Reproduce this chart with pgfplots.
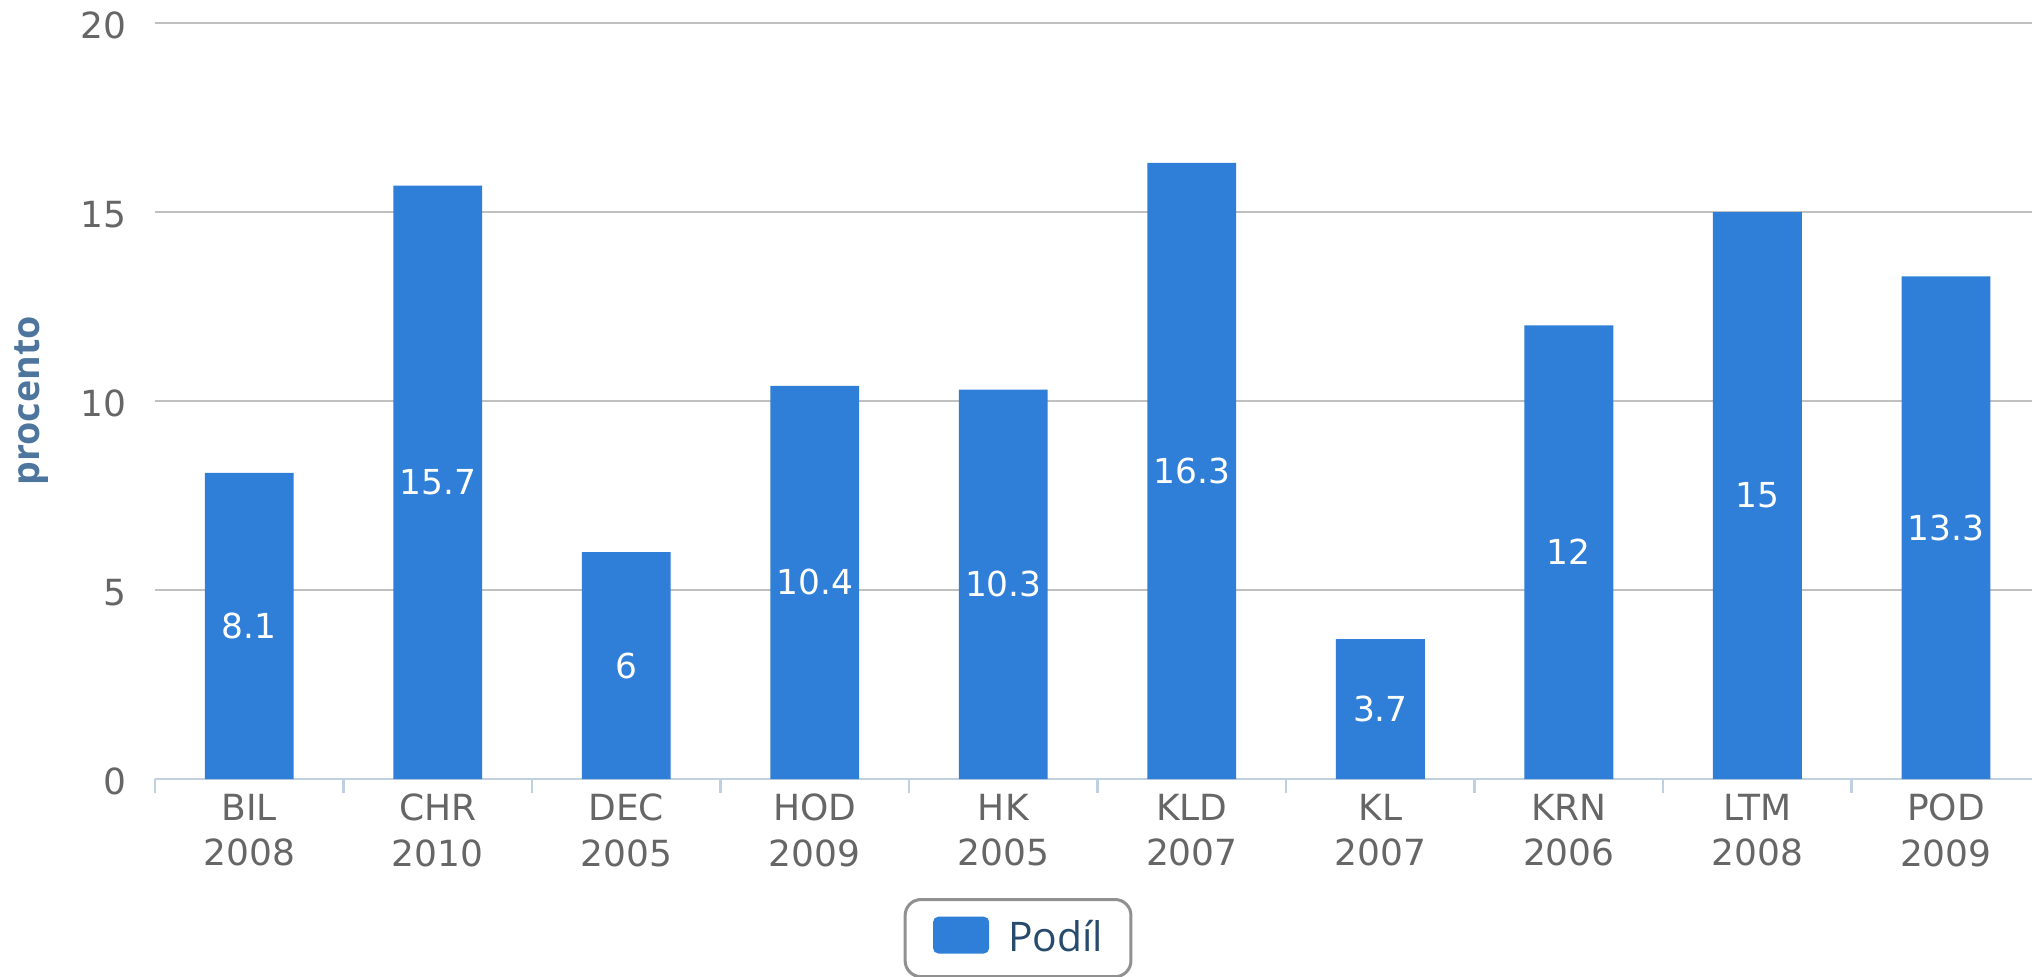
\documentclass[border=0pt]{standalone}
\usepackage{pgfplots}
\pgfplotsset{compat=1.18}
\usepackage{fontspec}
\setmainfont{DejaVu Sans}
\newfontfamily\osans{Open Sans}
\definecolor{barblue}{HTML}{2F7ED8}
\definecolor{gridgray}{HTML}{C0C0C0}
\definecolor{axisblue}{HTML}{C0D0E0}
\definecolor{ticktext}{HTML}{666666}
\definecolor{ylabelcol}{HTML}{4D759E}
\definecolor{legendtext}{HTML}{274B6D}
\definecolor{legendborder}{HTML}{909090}
\begin{document}
\begin{tikzpicture}
\begin{axis}[
  scale only axis,
  width=469.25pt, height=189pt,
  xmin=-0.5, xmax=9.457,
  ymin=0, ymax=20,
  enlargelimits=false,
  ytick={0,5,10,15,20},
  xtick={0,1,2,3,4,5,6,7,8,9},
  xticklabels={{BIL\\2008},{CHR\\2010},{DEC\\2005},{HOD\\2009},{HK\\2005},{KLD\\2007},{KL\\2007},{KRN\\2006},{LTM\\2008},{POD\\2009}},
  minor xtick={-0.5,0.5,1.5,2.5,3.5,4.5,5.5,6.5,7.5,8.5},
  major tick length=0pt,
  minor tick length=3.5pt,
  tick align=outside,
  axis x line*=bottom,
  axis y line*=left,
  x axis line style={-, draw=axisblue, line width=0.7pt},
  y axis line style={draw=none},
  xtick style={draw=none},
  ytick style={draw=none},
  minor x tick style={draw=axisblue, line width=0.6pt},
  ymajorgrids,
  grid style={gridgray, line width=0.7pt},
  /pgf/number format/assume math mode=true,
  yticklabel style={font=\fontsize{9}{11}\selectfont, text=ticktext, anchor=east, inner sep=0pt, xshift=-7pt, yshift=-0.6pt},
  xticklabel style={font=\fontsize{9}{11.3}\selectfont, text=ticktext, align=center, anchor=north, inner sep=0pt, yshift=-3.6pt},
  ylabel={procento},
  ylabel style={font=\osans\bfseries\fontsize{9.4}{11}\selectfont, text=ylabelcol, at={(axis description cs:-0.0655,0.5)}, anchor=center},
  ybar,
  bar width=22.2pt,
  nodes near coords,
  visualization depends on={y \as \rawy},
  every node near coord/.append style={font=\fontsize{8.6}{10}\selectfont, text=white, anchor=center, shift={(axis direction cs:0,-\rawy/2)}},
  legend style={at={(axis description cs:0.4598,-0.1574)}, anchor=north, draw=legendborder, rounded corners=4pt, line width=0.75pt, inner xsep=7pt, inner ysep=4.3pt, font=\osans\fontsize{10.2}{12}\selectfont, text=legendtext, nodes={inner sep=0pt}},
  legend image code/.code={\fill[barblue, rounded corners=1.3pt] (0pt,-3.7pt) rectangle (14pt,5.5pt); \path (18.75pt,-5.2pt);},
]
\addplot[fill=barblue, draw=none] coordinates {
  (0,8.1) (1,15.7) (2,6) (3,10.4) (4,10.3) (5,16.3) (6,3.7) (7,12) (8,15) (9,13.3)
};
\addlegendentry{Podíl}
\end{axis}
\pgfresetboundingbox
\useasboundingbox (-38.75pt,-49.25pt) rectangle (469.25pt,194.75pt);
\end{tikzpicture}
\end{document}
